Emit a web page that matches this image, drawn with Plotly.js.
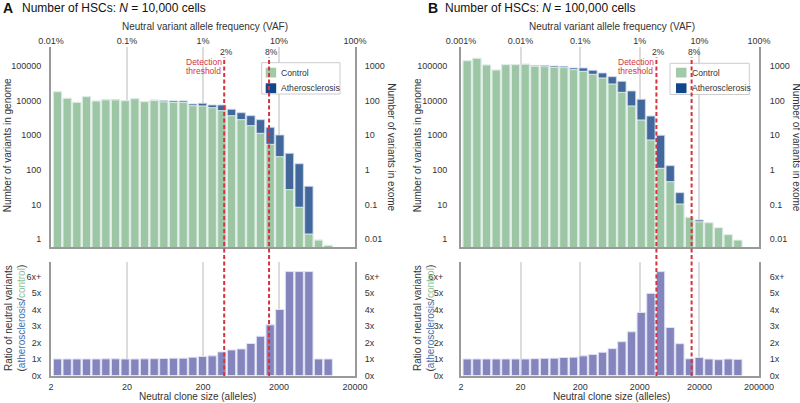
<!DOCTYPE html>
<html><head><meta charset="utf-8">
<script src="https://cdn.plot.ly/plotly-3.0.1.min.js"></script>
<style>html,body{margin:0;padding:0;background:#fff}#chart{width:800px;height:403px}</style>
</head><body><div id="chart"></div>
<script>
// ================= DATA =================
const cellsA = 10000;
const cellsB = 100000;
// Panel A: number of variants in genome per clone-size bin
const controlA = [17800, 11500, 8800, 12800, 9600, 10400, 10400, 9800, 11200, 9200, 9900, 9100, 8800, 8800, 7050, 6920, 6170, 5060, 3630, 2790, 1870, 1130, 545, 239, 26.9, 8.4, 1.42, 0.95, 0.67];
const atheroA  = [17800, 11500, 8800, 12800, 9600, 10500, 10600, 9800, 11200, 9300, 10300, 9800, 9700, 9700, 7900, 8260, 7380, 7380, 5550, 4430, 3630, 2790, 1680, 1010, 300, 150, 33.6, 0.95, 0.67];
// ratio bars as drawn (values above 6 are shown capped as "6x+")
const ratioA   = [1.0, 1.0, 1.0, 1.0, 1.0, 1.01, 1.01, 1.0, 1.0, 1.01, 1.02, 1.03, 1.05, 1.05, 1.11, 1.15, 1.19, 1.43, 1.55, 1.61, 1.94, 2.38, 3.07, 4.0, 6.3, 6.3, 6.3, 1.0, 1.0];
// Panel B
const controlB = [139000, 163000, 105000, 75100, 107000, 107000, 110000, 96000, 93600, 89800, 87700, 76800, 68900, 56500, 44300, 29700, 17100, 6920, 2730, 724, 111, 45.6, 10.4, 4.3, 3.2, 3.0, 2.16, 1.36, 0.95];
const atheroB  = [139000, 163000, 105000, 75100, 108000, 108000, 111000, 102000, 102000, 98000, 96000, 85900, 85900, 73600, 61600, 48200, 35500, 18700, 10800, 3550, 988, 132, 22, 4.3, 3.6, 3.0, 2.1, 1.36, 0.93];
const ratioB   = [1.0, 1.0, 1.0, 1.0, 1.0, 1.0, 1.0, 1.02, 1.04, 1.05, 1.09, 1.11, 1.19, 1.27, 1.41, 1.63, 2.05, 2.65, 3.82, 4.98, 6.3, 2.91, 1.93, 1.01, 1.09, 1.0, 0.96, 1.0, 0.98];

const seriesNames = ['Control', 'Atherosclerosis'];
const genomeTicks = [1, 10, 100, 1000, 10000, 100000];
const exomeTicks  = [0.01, 0.1, 1, 10, 100, 1000];
const ratioTicks  = [0, 1, 2, 3, 4, 5, 6];
const ratioLabels = ['0x', '1x', '2x', '3x', '4x', '5x', '6x+'];
const allelesTicksA = [2, 20, 200, 2000, 20000];
const allelesTicksB = [2, 20, 200, 2000, 20000, 200000];
const vafTicksA  = [0.0001, 0.001, 0.01, 0.1, 1];
const vafLabelsA = ['0.01%', '0.1%', '1%', '10%', '100%'];
const vafTicksB  = [0.00001, 0.0001, 0.001, 0.01, 0.1, 1];
const vafLabelsB = ['0.001%', '0.01%', '0.1%', '1%', '10%', '100%'];
const thresholdVAF    = [0.019, 0.074];   // dashed lines as placed in the figure
const thresholdLabels = ['2%', '8%'];

// ================= STYLE =================
const W = 800, H = 403;
const FONT = 'Liberation Sans, Arial, Helvetica, sans-serif';
const C_CONTROL = '#9dc6a5', C_ATH = '#42679a', C_RATIO = '#8585bd';
const C_LEG_CONTROL = '#a2caa8', C_LEG_ATH = '#11478a';
const C_RED = '#d43440', C_GRID = '#dcdcdc', C_AXIS = '#9a9a9a', C_TEXT = '#333333';
const TOP_DOM = [(H - 247.3) / H, (H - 46.7) / H];
const BOT_DOM = [(H - 375.5) / H, (H - 261.7) / H];
const LOG10 = Math.log10;

const px = p => p / W, py = p => (H - p) / H;

const panelsCfg = [
  { key: 'A', cells: cellsA, control: controlA, athero: atheroA, ratio: ratioA,
    alleleTicks: allelesTicksA, vafTicks: vafTicksA, vafLabels: vafLabelsA,
    dom: [51 / W, 355 / W], binStart: 0.3866, binStep: 0.1272,
    ax: { xt: 'x', xv: 'x5', xb: 'x2', yt: 'y', yr: 'y5', yb: 'y2', ybr: 'y6' },
    leg: { x0: 261.7, x1: 340, y0: 62.7, y1: 94, sw: 265.7, tx: 279.3 },
    letterX: 1, titleX: 20,
    yTitleX: 8.3, rTitleX: 391.7, ratioTitleX: 14.5, botTitleX: 197.7,
    lStand: 6, lStandR: 6, rStand: 6 },
  { key: 'B', cells: cellsB, control: controlB, athero: atheroB, ratio: ratioB,
    alleleTicks: allelesTicksB, vafTicks: vafTicksB, vafLabels: vafLabelsB,
    dom: [461 / W, 759 / W], binStart: 0.405, binStep: 0.1622,
    ax: { xt: 'x3', xv: 'x6', xb: 'x4', yt: 'y3', yr: 'y7', yb: 'y4', ybr: 'y8' },
    leg: { x0: 670, x1: 749.3, y0: 63.3, y1: 94.5, sw: 676, tx: 690 },
    letterX: 426, titleX: 442.5,
    yTitleX: 418.3, rTitleX: 796.5, ratioTitleX: 423.5, botTitleX: 611,
    lStand: 10, lStandR: 14, rStand: 7 }
];

const traces = [];
const layout = {
  width: W, height: H, margin: { l: 0, r: 0, t: 0, b: 0 },
  paper_bgcolor: '#fff', plot_bgcolor: 'rgba(0,0,0,0)',
  barmode: 'overlay', showlegend: false,
  font: { family: FONT, size: 9, color: C_TEXT },
  annotations: [], shapes: []
};
const axName = a => a.replace(/^x/, 'xaxis').replace(/^y/, 'yaxis');

panelsCfg.forEach(p => {
  const xs = p.control.map((_, i) => p.binStart + i * p.binStep);
  const barW = p.binStep * 0.86;
  const xRange = [LOG10(p.alleleTicks[0]), LOG10(p.alleleTicks[p.alleleTicks.length - 1])];
  const alleleVals = p.alleleTicks.map(LOG10);
  const a = p.ax;

  // bars
  traces.push({ type: 'bar', name: seriesNames[1], x: xs, y: p.athero, width: barW,
    xaxis: a.xt, yaxis: a.yt,
    marker: { color: C_ATH, line: { color: 'rgba(200,215,235,0.9)', width: 1 } }, hoverinfo: 'skip' });
  traces.push({ type: 'bar', name: seriesNames[0], x: xs, y: p.control, width: barW,
    xaxis: a.xt, yaxis: a.yt,
    marker: { color: C_CONTROL, line: { color: 'rgba(235,245,238,0.9)', width: 1 } }, hoverinfo: 'skip' });
  // invisible anchors for secondary axes (exome counts = genome / 100, VAF axis)
  traces.push({ type: 'scatter', mode: 'markers', x: xs, y: p.control.map(v => v / 100),
    xaxis: a.xt, yaxis: a.yr, marker: { opacity: 0 }, hoverinfo: 'skip' });
  traces.push({ type: 'scatter', mode: 'markers', x: xs, y: p.control,
    xaxis: a.xv, yaxis: a.yt, marker: { opacity: 0 }, hoverinfo: 'skip' });
  // ratio bars
  traces.push({ type: 'bar', x: xs, y: p.ratio, width: barW, xaxis: a.xb, yaxis: a.yb,
    marker: { color: C_RATIO, line: { color: 'rgba(225,225,245,1)', width: 1 } }, hoverinfo: 'skip' });
  traces.push({ type: 'scatter', mode: 'markers', x: xs, y: p.ratio, xaxis: a.xb, yaxis: a.ybr,
    marker: { opacity: 0 }, hoverinfo: 'skip' });

  const tickFont = { family: FONT, size: 9, color: C_TEXT };
  layout[axName(a.xt)] = { domain: p.dom, anchor: a.yt, range: xRange, side: 'bottom',
    tickvals: alleleVals, showticklabels: false, ticks: '', showgrid: true, gridcolor: C_GRID, gridwidth: 2,
    showline: true, linecolor: C_AXIS, linewidth: 2, zeroline: false };
  layout[axName(a.xv)] = { overlaying: a.xt, anchor: a.yt, side: 'top', range: xRange,
    tickvals: p.vafTicks.map(v => LOG10(v * 2 * p.cells)), ticktext: p.vafLabels,
    ticks: '', showgrid: false, showline: false, zeroline: false, tickfont: tickFont, ticklabelstandoff: 0 };
  layout[axName(a.xb)] = { domain: p.dom, anchor: a.yb, range: xRange, side: 'bottom',
    tickvals: alleleVals, ticktext: p.alleleTicks.map(String), ticks: '',
    showgrid: true, gridcolor: C_GRID, gridwidth: 2, showline: true, linecolor: C_AXIS, linewidth: 2,
    layer: 'below traces', zeroline: false, tickfont: tickFont, ticklabelstandoff: 2 };
  const yTopRange = [-0.230, 5.547];
  layout[axName(a.yt)] = { domain: TOP_DOM, anchor: a.xt, type: 'log', range: yTopRange,
    tickvals: genomeTicks, ticktext: genomeTicks.map(String), ticks: '', showgrid: false,
    showline: true, linecolor: C_AXIS, linewidth: 2, zeroline: false, tickfont: tickFont, ticklabelstandoff: p.lStand };
  layout[axName(a.yr)] = { overlaying: a.yt, anchor: a.xt, side: 'right', type: 'log',
    range: [yTopRange[0] - 2, yTopRange[1] - 2],
    tickvals: exomeTicks, ticktext: exomeTicks.map(String), ticks: '', showgrid: false,
    showline: true, linecolor: C_AXIS, linewidth: 2, zeroline: false, tickfont: tickFont, ticklabelstandoff: p.rStand };
  layout[axName(a.yb)] = { domain: BOT_DOM, anchor: a.xb, range: [0, 6.9],
    tickvals: ratioTicks, ticktext: ratioLabels, ticks: '', showgrid: false,
    showline: true, linecolor: C_AXIS, linewidth: 2, zeroline: false, tickfont: tickFont, ticklabelstandoff: p.lStandR };
  layout[axName(a.ybr)] = { overlaying: a.yb, anchor: a.xb, side: 'right', range: [0, 6.9],
    tickvals: ratioTicks, ticktext: ratioLabels, ticks: '', showgrid: false,
    showline: true, linecolor: C_AXIS, linewidth: 2, zeroline: false, tickfont: tickFont, ticklabelstandoff: p.rStand };

  // legend box (drawn manually to match the compact original)
  const L = p.leg;
  layout.shapes.push({ type: 'rect', xref: 'paper', yref: 'paper', x0: px(L.x0), x1: px(L.x1),
    y0: py(L.y1), y1: py(L.y0), fillcolor: '#ffffff', line: { color: '#cccccc', width: 1 }, layer: 'above' });
  [[seriesNames[0], C_LEG_CONTROL, 72.6], [seriesNames[1], C_LEG_ATH, 88.2]].forEach(([name, col, cy]) => {
    layout.shapes.push({ type: 'rect', xref: 'paper', yref: 'paper', x0: px(L.sw), x1: px(L.sw + 10.5),
      y0: py(cy + 4.9), y1: py(cy - 4.9), fillcolor: col, line: { width: 0 }, layer: 'above' });
    layout.annotations.push({ text: name, xref: 'paper', yref: 'paper', x: px(L.tx), y: py(cy),
      xanchor: 'left', yanchor: 'middle', showarrow: false, font: { family: FONT, size: 8.6, color: C_TEXT } });
  });

  // threshold lines
  thresholdVAF.forEach((v, k) => {
    const xv = LOG10(v * 2 * p.cells);
    layout.shapes.push({ type: 'line', xref: a.xt, yref: 'paper', x0: xv, x1: xv,
      y0: py(376), y1: py(57), line: { color: C_RED, width: 2, dash: '4px,2.5px' } });
    layout.annotations.push({ text: thresholdLabels[k], xref: a.xt, yref: 'paper', x: xv, y: py(52),
      xanchor: 'center', yanchor: 'middle', xshift: 2.5, showarrow: false,
      font: { family: FONT, size: 8.5, color: C_TEXT } });
    if (k === 0) {
      ['Detection', 'threshold'].forEach((t, j) => {
        layout.annotations.push({ text: t, xref: a.xt, yref: 'paper', x: xv, y: py(61.7 + j * 9.4),
          xanchor: 'center', yanchor: 'middle', xshift: -20.5, showarrow: false,
          font: { family: FONT, size: 8.5, color: C_RED } });
      });
    }
  });

  const domC = (p.dom[0] + p.dom[1]) / 2 * W;
  const ann = (text, x, y, o) => Object.assign({ text, xref: 'paper', yref: 'paper', x: px(x), y: py(y),
    xanchor: 'center', yanchor: 'middle', showarrow: false, font: { family: FONT, size: 10, color: C_TEXT } }, o || {});
  layout.annotations.push(
    ann('<b>' + p.key + '</b>', p.letterX, 7.5, { xanchor: 'left', font: { family: FONT, size: 14, color: '#111' } }),
    ann('Number of HSCs: <i>N</i> = ' + p.cells.toLocaleString('en-US') + ' cells', p.titleX, 7.5,
      { xanchor: 'left', font: { family: FONT, size: 12, color: '#111' } }),
    ann('Neutral variant allele frequency (VAF)', domC + 1.5, 26),
    ann('Neutral clone size (alleles)', p.botTitleX, 396.7),
    ann('Number of variants in genome', p.yTitleX, 145, { textangle: -90 }),
    ann('Number of variants in exome', p.rTitleX, 147, { textangle: 90 }),
    ann('Ratio of neutral variants<br>(<span style="color:#3f6fae">atherosclerosis</span>/<span style="color:#8cbf97">control</span>)',
      p.ratioTitleX, 318, { textangle: -90 })
  );
});

Plotly.newPlot('chart', traces, layout, { staticPlot: true, displayModeBar: false });
</script>
</body></html>
